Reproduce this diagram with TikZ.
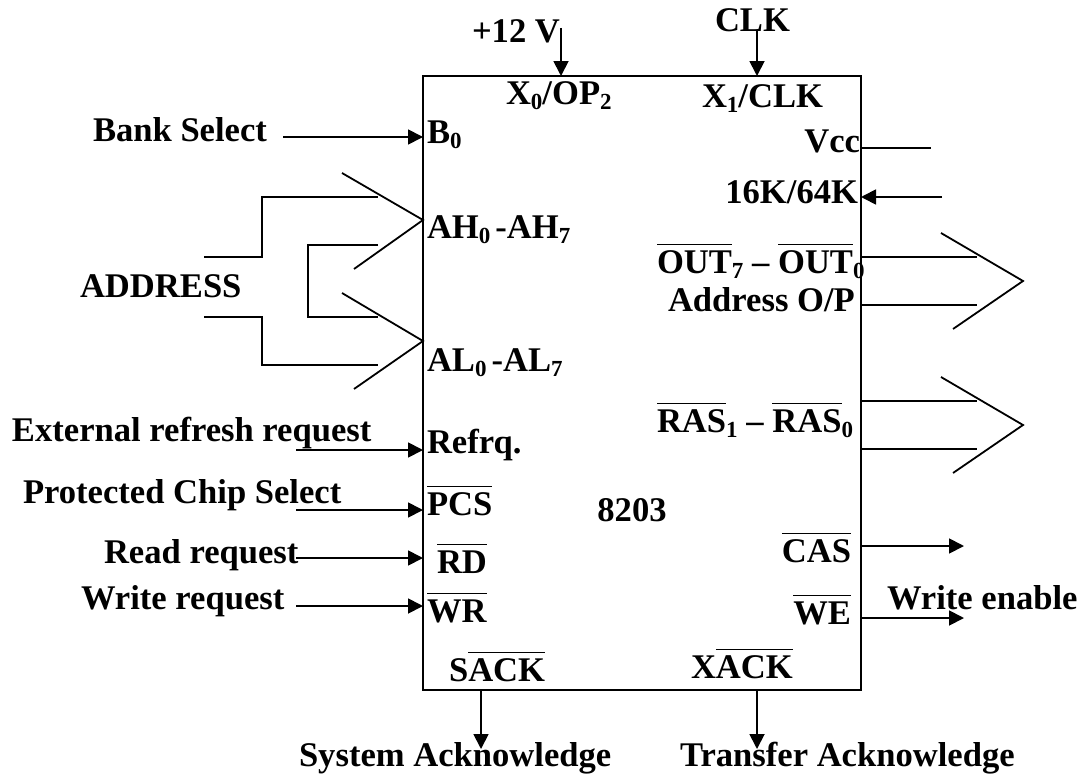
\documentclass[tikz,border=0pt]{standalone}
\usepackage{fontspec}
\setmainfont{Liberation Serif}
\usetikzlibrary{arrows.meta}
\newcommand{\pinbar}[1]{$\overline{\mbox{\rule{0pt}{27pt}#1}}$}
\newcommand{\pinsub}[1]{\raisebox{-5.5pt}{\fontsize{23}{23}\selectfont #1}}
\tikzset{
	lab/.style={inner sep=0pt,outer sep=0pt,font=\fontsize{34.6}{38}\selectfont\bfseries},
	labl/.style={lab,anchor=base west},
	labr/.style={lab,anchor=base east},
	wire/.style={line width=1.8pt},
	pinarrow/.style={wire,-{Triangle[length=15pt,width=15pt]}},
	chipbox/.style={draw,line width=2pt,inner sep=0pt,outer sep=0pt,minimum width=438pt,minimum height=614pt}
}
\begin{document}
\begin{tikzpicture}[x=1pt,y=-1pt]
	\useasboundingbox (0,0) rectangle (1083,776);
	\node[chipbox] (chip) at (642,383) {};

	% top pins
	\node[labl] (vpp) at (472,43) {+12 V};
	\node[labl] (clk) at (715,32) {CLK};
	\node[labl] (xzero) at (506,104) {X\pinsub{0}/OP\pinsub{2}};
	\node[labl] (xone) at (702,107) {X\pinsub{1}/CLK};
	\coordinate (vppa) at (561,28);
	\coordinate (vppb) at (561,76);
	\coordinate (clka) at (757,31);
	\coordinate (clkb) at (757,76);
	\draw[pinarrow] (vppa) -- (vppb);
	\draw[pinarrow] (clka) -- (clkb);

	% left pins
	\node[labl] (banksel) at (93,141) {Bank Select};
	\node[labl] (bzero) at (427,143) {B\pinsub{0}};
	\node[labl] (address) at (80,297) {ADDRESS};
	\node[labl] (ahpin) at (427,238) {AH\pinsub{0}\hspace{5pt}-AH\pinsub{7}};
	\node[labl] (alpin) at (427,371) {AL\pinsub{0}\hspace{5pt}-AL\pinsub{7}};
	\node[labl] (extref) at (12,441) {External refresh request};
	\node[labl] (refrq) at (427,453) {Refrq.};
	\node[labl] (protsel) at (23,503) {Protected Chip Select};
	\node[labl] (pcs) at (427,515) {\pinbar{PCS}};
	\node[labl] (readreq) at (104,563) {Read request};
	\node[labl] (rd) at (437,573) {\pinbar{RD}};
	\node[labl] (writereq) at (81,609) {Write request};
	\node[labl] (wr) at (427,622) {\pinbar{WR}};

	\coordinate (banka) at (283,137);
	\coordinate (bankb) at (423,137);
	\coordinate (refa) at (296,450);
	\coordinate (refb) at (423,450);
	\coordinate (pcsa) at (296,510);
	\coordinate (pcsb) at (423,510);
	\coordinate (rda) at (296,558);
	\coordinate (rdb) at (423,558);
	\coordinate (wra) at (296,606);
	\coordinate (wrb) at (423,606);
	\draw[pinarrow] (banka) -- (bankb);
	\draw[pinarrow] (refa) -- (refb);
	\draw[pinarrow] (pcsa) -- (pcsb);
	\draw[pinarrow] (rda) -- (rdb);
	\draw[pinarrow] (wra) -- (wrb);

	% address bus
	\coordinate (ahtip) at (423,220);
	\coordinate (ahtop) at (342,173);
	\coordinate (ahbot) at (354,269);
	\coordinate (altip) at (423,341);
	\coordinate (altop) at (342,293);
	\coordinate (albot) at (354,389);
	\coordinate (busa) at (204,257);
	\coordinate (busb) at (378,197);
	\coordinate (busc) at (378,245);
	\coordinate (busd) at (378,317);
	\coordinate (buse) at (204,317);
	\coordinate (busf) at (378,365);
	\draw[wire] (ahtop) -- (ahtip) -- (ahbot);
	\draw[wire] (altop) -- (altip) -- (albot);
	\draw[wire] (busa) -- (262,257) -- (262,197) -- (busb);
	\draw[wire] (busc) -- (308,245) -- (308,317) -- (busd);
	\draw[wire] (buse) -- (262,317) -- (262,365) -- (busf);

	% right pins
	\node[labr] (vcc) at (860,152) {Vcc};
	\node[labr] (sixteen) at (858,203) {16K/64K};
	\node[labl] (out) at (657,273) {\pinbar{OUT}\pinsub{7} -- \pinbar{OUT}\pinsub{0}};
	\node[labl] (addrop) at (668,311) {Address O/P};
	\node[labl] (ras) at (657,432) {\pinbar{RAS}\pinsub{1} -- \pinbar{RAS}\pinsub{0}};
	\node[labr] (cas) at (851,562) {\pinbar{CAS}};
	\node[labr] (we) at (851,624) {\pinbar{WE}};
	\node[labl] (wrenable) at (887,609) {Write enable};
	\node[lab,anchor=base] (chipname) at (632,521) {8203};

	\coordinate (vcca) at (861,148);
	\coordinate (vccb) at (931,148);
	\coordinate (sixa) at (942,197);
	\coordinate (sixb) at (861,197);
	\coordinate (casa) at (861,546);
	\coordinate (casb) at (964,546);
	\coordinate (wea) at (861,618);
	\coordinate (web) at (964,618);
	\draw[wire] (vcca) -- (vccb);
	\draw[pinarrow] (sixa) -- (sixb);
	\draw[pinarrow] (casa) -- (casb);
	\draw[pinarrow] (wea) -- (web);

	% output buses
	\foreach \busname/\ya in {outbus/0,rasbus/144}{
		\coordinate (\busname a) at (861,257+\ya);
		\coordinate (\busname b) at (977,257+\ya);
		\coordinate (\busname c) at (861,305+\ya);
		\coordinate (\busname d) at (977,305+\ya);
		\coordinate (\busname top) at (941,233+\ya);
		\coordinate (\busname tip) at (1023,281+\ya);
		\coordinate (\busname bot) at (953,329+\ya);
		\draw[wire] (\busname a) -- (\busname b);
		\draw[wire] (\busname c) -- (\busname d);
		\draw[wire] (\busname top) -- (\busname tip) -- (\busname bot);
	}

	% bottom pins
	\node[labl] (sack) at (449,681) {S\pinbar{ACK}};
	\node[labl] (xack) at (691,678) {X\pinbar{ACK}};
	\node[labl] (sysack) at (299,766) {System Acknowledge};
	\node[labl] (transack) at (680,766) {Transfer Acknowledge};
	\coordinate (sacka) at (481,691);
	\coordinate (sackb) at (481,749);
	\coordinate (xacka) at (757,691);
	\coordinate (xackb) at (757,749);
	\draw[pinarrow] (sacka) -- (sackb);
	\draw[pinarrow] (xacka) -- (xackb);
\end{tikzpicture}
\end{document}
